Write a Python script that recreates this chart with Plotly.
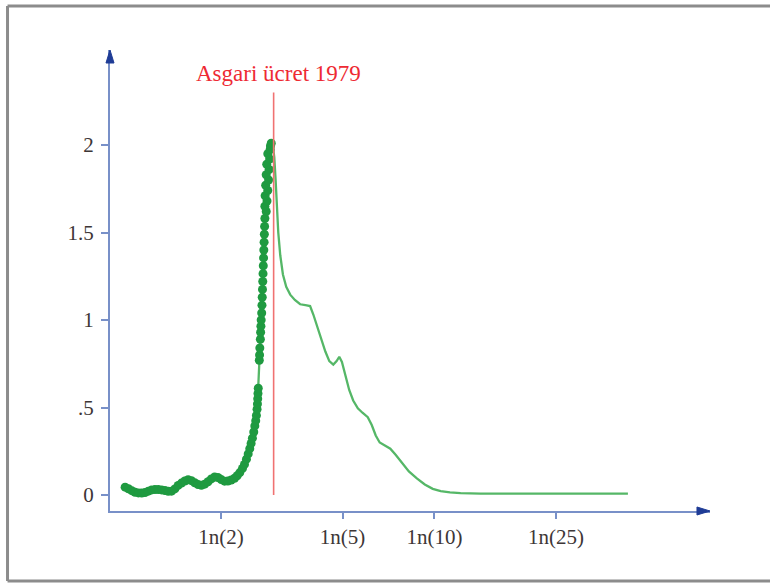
import numpy as np
import plotly.graph_objects as go

# ---- data (x = ln wage, y = density) ----
dots_lnw = [-0.030, -0.005, 0.020, 0.045, 0.070, 0.095, 0.120, 0.145, 0.170, 0.195,
            0.220, 0.245, 0.270, 0.295, 0.320, 0.345, 0.370, 0.395, 0.420, 0.445,
            0.470, 0.495, 0.520, 0.545, 0.570, 0.595, 0.620, 0.645, 0.670, 0.695,
            0.720, 0.745, 0.770, 0.795, 0.815, 0.835, 0.855, 0.870, 0.885, 0.898,
            0.910, 0.920, 0.930, 0.940, 0.948, 0.955, 0.960, 0.965, 0.968, 0.970,
            0.972, 0.974, 0.982, 0.984, 0.986, 0.990, 0.992, 0.994, 0.996, 1.000,
            1.002, 1.004, 1.006, 1.008, 1.010, 1.012, 1.014, 1.016, 1.018, 1.020,
            1.022, 1.024, 1.034, 1.024, 1.040, 1.026, 1.046, 1.030, 1.052, 1.034,
            1.056, 1.038, 1.060, 1.046, 1.064, 1.066, 1.072]
dots_dens = [0.045, 0.036, 0.025, 0.016, 0.012, 0.011, 0.014, 0.022, 0.029, 0.031,
             0.031, 0.029, 0.026, 0.021, 0.022, 0.035, 0.055, 0.068, 0.080, 0.087,
             0.082, 0.070, 0.060, 0.056, 0.062, 0.076, 0.092, 0.103, 0.100, 0.088,
             0.079, 0.080, 0.086, 0.096, 0.110, 0.128, 0.152, 0.175, 0.205, 0.235,
             0.265, 0.295, 0.325, 0.360, 0.395, 0.425, 0.455, 0.490, 0.520, 0.550,
             0.580, 0.610, 0.770, 0.800, 0.840, 0.890, 0.930, 0.965, 1.000, 1.040,
             1.085, 1.130, 1.175, 1.220, 1.265, 1.310, 1.355, 1.400, 1.445, 1.490,
             1.535, 1.580, 1.620, 1.650, 1.680, 1.710, 1.740, 1.770, 1.800, 1.830,
             1.860, 1.890, 1.920, 1.950, 1.975, 1.995, 2.010]

tail_lnw = [1.085, 1.095, 1.105, 1.115, 1.125, 1.140, 1.160, 1.185, 1.215, 1.250,
            1.290, 1.330, 1.365, 1.390, 1.420, 1.450, 1.480, 1.510, 1.540, 1.565,
            1.585, 1.605, 1.630, 1.660, 1.690, 1.725, 1.760, 1.800, 1.830, 1.860,
            1.890, 1.930, 1.970, 2.010, 2.060, 2.110, 2.170, 2.230, 2.290, 2.350,
            2.420, 2.500, 2.650, 2.850, 3.100, 3.400, 3.762]
tail_dens = [1.990, 1.930, 1.800, 1.640, 1.500, 1.370, 1.260, 1.190, 1.145, 1.115,
             1.090, 1.085, 1.080, 1.030, 0.960, 0.890, 0.820, 0.765, 0.745, 0.765,
             0.790, 0.760, 0.680, 0.600, 0.540, 0.495, 0.470, 0.445, 0.400, 0.340,
             0.300, 0.280, 0.265, 0.230, 0.180, 0.135, 0.095, 0.060, 0.035, 0.022,
             0.015, 0.011, 0.008, 0.007, 0.007, 0.008, 0.008]

min_wage_lnw = 1.090
min_wage_label = "Asgari ücret 1979"

x_tick_wages = [2, 5, 10, 25]
x_tick_text = ["1n(2)", "1n(5)", "1n(10)", "1n(25)"]
y_tick_vals = [0, 0.5, 1, 1.5, 2]
y_tick_text = ["0", ".5", "1", "1.5", "2"]

FONT = "Liberation Serif, Times New Roman, serif"
AXIS_C = "#7890c8"
ARROW_C = "#1f3c96"
TXT_C = "#3d3636"

fig = go.Figure()
fig.add_trace(go.Scatter(x=dots_lnw + tail_lnw, y=dots_dens + tail_dens, mode="lines",
                         line=dict(color="#55b767", width=2.3), hoverinfo="skip"))
fig.add_trace(go.Scatter(x=dots_lnw, y=dots_dens, mode="markers",
                         marker=dict(color="#1f9a40", size=9), hoverinfo="skip"))

# minimum wage line
fig.add_shape(type="line", xref="x", yref="y", x0=min_wage_lnw, x1=min_wage_lnw,
              y0=0, y1=2.30, line=dict(color="#f07272", width=1.6))
fig.add_annotation(x=1.123, y=2.41, xref="x", yref="y", text=min_wage_label,
                   showarrow=False, font=dict(family=FONT, size=23, color="#ee2a33"))

# axis arrow heads (paper coords)
fig.add_shape(type="path", xref="paper", yref="paper",
              path="M 1.0 0 L 0.9783 0.0087 L 0.9783 -0.0087 Z",
              fillcolor=ARROW_C, line=dict(color=ARROW_C, width=1))
fig.add_shape(type="path", xref="paper", yref="paper",
              path="M 0 1.0 L 0.0067 0.9718 L -0.0067 0.9718 Z",
              fillcolor=ARROW_C, line=dict(color=ARROW_C, width=1))

# outer frame: left, top, bottom only (right side runs off the image)
FRAME = dict(color="#8c8c8c", width=3)
fig.add_shape(type="line", xref="paper", yref="paper", x0=-0.1708, x1=-0.1708,
              y0=-0.1518, y1=1.0954, line=FRAME)
fig.add_shape(type="line", xref="paper", yref="paper", x0=-0.1708, x1=1.2,
              y0=1.0954, y1=1.0954, line=FRAME)
fig.add_shape(type="line", xref="paper", yref="paper", x0=-0.1708, x1=1.2,
              y0=-0.1518, y1=-0.1518, line=FRAME)

fig.update_layout(
    width=770, height=584,
    margin=dict(l=110, r=60, t=50, b=73),
    paper_bgcolor="white", plot_bgcolor="white",
    showlegend=False,
    font=dict(family=FONT, size=21, color=TXT_C),
    xaxis=dict(range=[-0.1441, 4.381], showgrid=False, zeroline=False,
               showline=True, linecolor=AXIS_C, linewidth=2,
               tickmode="array", tickvals=list(np.log(x_tick_wages)), ticktext=x_tick_text,
               ticks="outside", ticklen=6, tickwidth=1.5, tickcolor=AXIS_C,
               tickfont=dict(family=FONT, size=21, color=TXT_C)),
    yaxis=dict(range=[-0.0914, 2.543], showgrid=False, zeroline=False,
               showline=True, linecolor=AXIS_C, linewidth=2,
               tickmode="array", tickvals=y_tick_vals, ticktext=y_tick_text,
               ticks="outside", ticklen=7, tickwidth=1.5, tickcolor=AXIS_C,
               ticklabelstandoff=3,
               tickfont=dict(family=FONT, size=21, color=TXT_C)),
)

fig.write_html("out.html")
